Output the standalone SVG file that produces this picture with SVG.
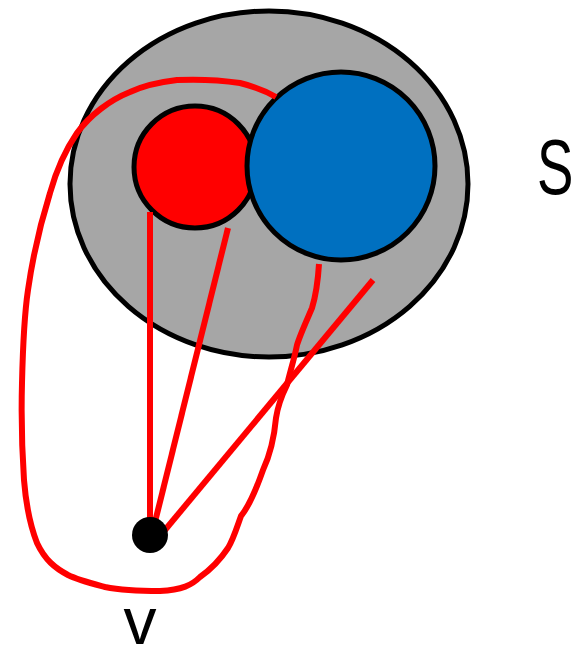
<svg xmlns="http://www.w3.org/2000/svg" width="582" height="659" viewBox="0 0 582 659">
<style>
.node{stroke:#000;stroke-width:5}
.edge{fill:none;stroke:#ff0000;stroke-width:6;stroke-linecap:butt;stroke-linejoin:round}
.lbl{font-family:"Liberation Sans",Arial,sans-serif;fill:#000}
</style>
<g id="S">
<ellipse class="node" cx="269" cy="184" rx="199" ry="173" fill="#a6a6a6"/>
</g>
<g id="red">
<circle class="node" cx="195" cy="167" r="61" fill="#ff0000"/>
</g>
<g id="blue">
<circle class="node" cx="341" cy="166" r="94" fill="#0070c0"/>
</g>
<g id="connectors">
<line class="edge" x1="150" y1="212" x2="150" y2="522"/>
<line class="edge" x1="228" y1="228" x2="155" y2="522"/>
<line class="edge" x1="373" y1="280" x2="165" y2="530"/>
<path class="edge" d="M319,264 C318,280 316,295 312,308 C306,322 300,335 297,345 C294,360 290,372 287,385 C282,395 278,405 276,418 C274,440 270,455 263,470 C256,490 250,505 241,516 C236,530 233,540 228,548 C220,560 210,570 200,577 C192,585 182,590 160,591 C140,591 120,590 105,587 C90,583 78,580 68,575 C55,568 45,560 37,543 C30,525 26,505 24,480 C22,450 21,420 22,383 C23,340 25,310 28,290 C33,255 40,225 50,193 C55,175 62,155 77,133 C90,115 110,100 130,92 C145,85 160,82 177,80 C200,79 220,80 240,83 C252,86 264,90 276,97"/>
</g>
<g id="v">
<circle cx="150" cy="535" r="18" fill="#000"/>
</g>
<text class="lbl" x="140" y="644" font-size="66" text-anchor="middle">v</text>
<text class="lbl" transform="translate(537,194) scale(0.7,1)" font-size="78">S</text>
</svg>
